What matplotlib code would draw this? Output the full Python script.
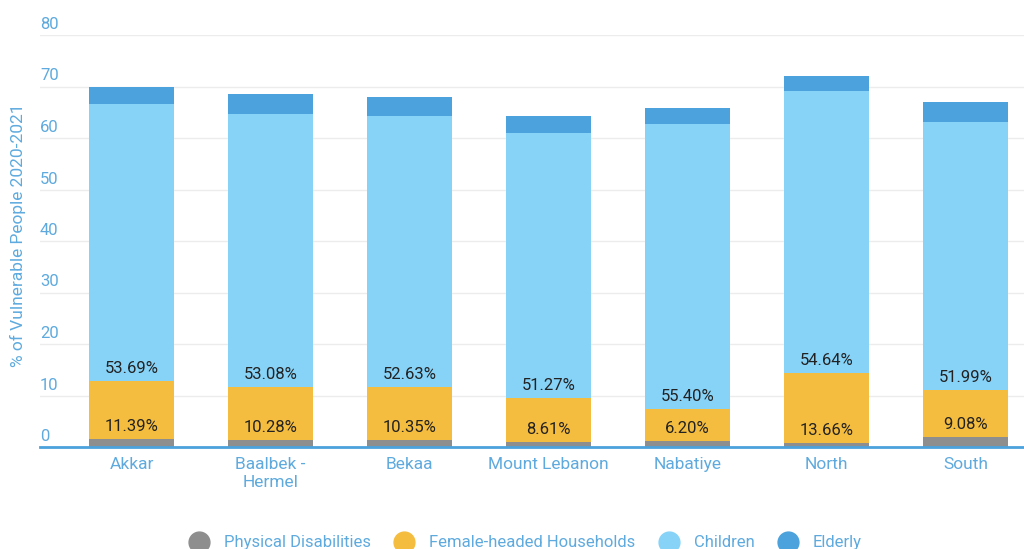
import numpy as np
import matplotlib.pyplot as plt
from matplotlib.lines import Line2D
from matplotlib.transforms import offset_copy

plt.rcParams['font.family'] = ['Roboto', 'DejaVu Sans']

regions = ['Akkar', 'Baalbek -\nHermel', 'Bekaa', 'Mount Lebanon', 'Nabatiye', 'North', 'South']
physical = [1.5, 1.3, 1.3, 1.0, 1.2, 0.8, 2.0]
female_headed = [11.39, 10.28, 10.35, 8.61, 6.20, 13.66, 9.08]
children = [53.69, 53.08, 52.63, 51.27, 55.40, 54.64, 51.99]
elderly = [3.4, 3.8, 3.7, 3.4, 3.1, 3.0, 4.0]

series_names = ['Physical Disabilities', 'Female-headed Households', 'Children', 'Elderly']
colors = ['#8e8e8e', '#f5bd3f', '#87d3f8', '#4ba2dc']
text_blue = '#5eaade'

fig = plt.figure(figsize=(10.24, 5.49), dpi=100)
ax = fig.add_axes([40 / 1024, 1 - 447 / 549, 1 - 40 / 1024, (447 - 35) / 549])

x = np.arange(len(regions))
width = 0.61
bottom = np.zeros(len(regions))
for vals, col in zip([physical, female_headed, children, elderly], colors):
    ax.bar(x, vals, width, bottom=bottom, color=col, zorder=3)
    bottom += np.array(vals)

# percentage labels sit just above the base of their segment
base_fem = np.array(physical)
base_child = base_fem + np.array(female_headed)
for i in range(len(regions)):
    ax.annotate(f'{female_headed[i]:.2f}%', (x[i], base_fem[i]), xytext=(0, 9),
                textcoords='offset points', ha='center', va='center',
                fontsize=12, color='#222222', zorder=5)
    ax.annotate(f'{children[i]:.2f}%', (x[i], base_child[i]), xytext=(0, 9),
                textcoords='offset points', ha='center', va='center',
                fontsize=12, color='#222222', zorder=5)

ax.set_xlim(-0.66, 6.42)
ax.set_ylim(0, 80)
ax.set_xticks(x)
ax.set_xticklabels(regions, fontsize=12.5, color=text_blue, linespacing=1.25)
ax.tick_params(axis='x', length=0, pad=7)
ax.set_yticks(np.arange(0, 81, 10))
ax.set_yticklabels([])
ax.tick_params(axis='y', length=0)
ax.grid(axis='y', color='#ececec', linewidth=1, zorder=0)

# y tick labels placed above their gridlines
trans = offset_copy(ax.get_yaxis_transform(), fig=fig, x=0, y=3, units='dots')
for v in range(0, 81, 10):
    ax.text(0, v, str(v), transform=trans, ha='left', va='bottom',
            fontsize=12, color=text_blue, clip_on=False)

for s in ['top', 'right', 'left']:
    ax.spines[s].set_visible(False)
ax.spines['bottom'].set_color('#4ba2dc')
ax.spines['bottom'].set_linewidth(2)
ax.spines['bottom'].set_zorder(4)

fig.text(18 / 1024, 1 - 235 / 549, '% of Vulnerable People 2020-2021', rotation=90,
         ha='center', va='center', fontsize=12.5, color=text_blue)

handles = [Line2D([], [], marker='o', linestyle='none', markersize=15,
                  markerfacecolor=c, markeredgecolor=c) for c in colors]
fig.legend(handles, series_names, loc='lower center', bbox_to_anchor=(0.51, -0.03),
           ncol=4, frameon=False, fontsize=12, labelcolor=text_blue,
           handletextpad=0.5, columnspacing=1.0)

fig.savefig('out.png', dpi=100)
